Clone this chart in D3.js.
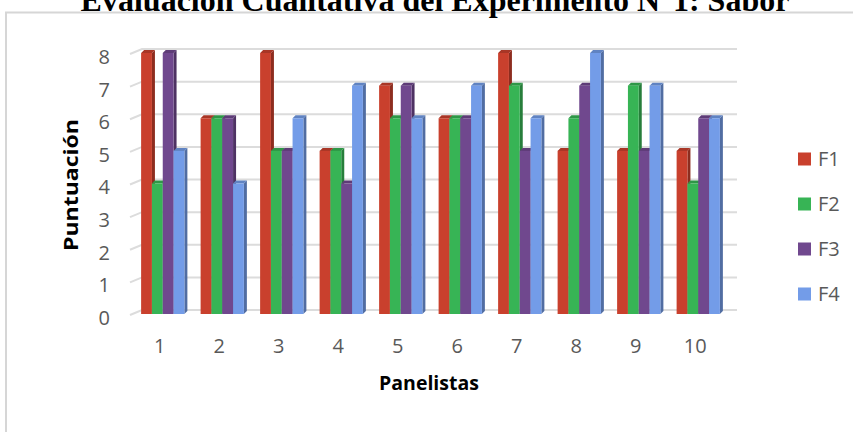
<!DOCTYPE html>
<html>
<head>
<meta charset="utf-8">
<script src="https://cdn.jsdelivr.net/npm/d3@7"></script>
<style>
  html, body { margin: 0; padding: 0; background: #fff; }
  svg { display: block; }
</style>
</head>
<body>
<svg id="chart" width="853" height="432"></svg>
<script>
// Panel scores per panelist for the four formulations
const panelistas = ["1", "2", "3", "4", "5", "6", "7", "8", "9", "10"];
const seriesNames = ["F1", "F2", "F3", "F4"];
const F1 = [8, 6, 8, 5, 7, 6, 8, 5, 5, 5];
const F2 = [4, 6, 5, 5, 6, 6, 7, 6, 7, 4];
const F3 = [8, 6, 5, 4, 7, 6, 5, 7, 5, 6];
const F4 = [5, 4, 6, 7, 6, 7, 6, 8, 7, 6];
const yTicks = [0, 1, 2, 3, 4, 5, 6, 7, 8];
const seriesColors = ["#c9402d", "#37b455", "#70488e", "#739ce8"];

const titleText = "Evaluación Cualitativa del Experimento N°1: Sabor";
const xTitle = "Panelistas";
const yTitle = "Puntuación";

const values = [F1, F2, F3, F4];

const svg = d3.select("#chart");
const uiFont = "'Open Sans', 'Noto Sans', sans-serif";

// chart frame
svg.append("rect")
  .attr("x", 6).attr("y", 12.5)
  .attr("width", 870).attr("height", 440)
  .attr("fill", "#fff")
  .attr("stroke", "#d6d6d6").attr("stroke-width", 2);

// title (sits partly above the frame)
svg.append("text")
  .attr("x", 435).attr("y", 11)
  .attr("text-anchor", "middle")
  .attr("font-family", "'Liberation Serif', 'Times New Roman', serif")
  .attr("font-weight", "bold")
  .attr("font-size", 32)
  .attr("fill", "#000")
  .text(titleText);

// scales
const x = d3.scaleBand().domain(panelistas).range([133, 728]).paddingInner(0).paddingOuter(0);
const inner = d3.scaleBand().domain(seriesNames).range([0, x.bandwidth()]).paddingOuter(0.75).paddingInner(0);
const y = d3.scaleLinear().domain([0, 8]).range([314, 53]);

const depth = 3;           // bar side/top depth
const wallDx = 10;         // back wall offset for gridlines

// gridlines on the back wall with floor diagonal at the left
const grid = svg.append("g");
yTicks.forEach(t => {
  const yb = y(t) - 4;
  grid.append("path")
    .attr("d", `M130,${yb + 5} L${130 + wallDx + 2},${yb} L737,${yb}`)
    .attr("fill", "none")
    .attr("stroke", "#dcdcdc")
    .attr("stroke-width", 2);
});

// y axis labels
const yAxis = d3.axisLeft(y).tickValues(yTicks).tickSize(0).tickPadding(0);
const gy = svg.append("g").attr("transform", "translate(110,4)").call(yAxis);
gy.select(".domain").remove();
gy.selectAll("text")
  .attr("font-family", uiFont).attr("font-size", 20)
  .attr("fill", "#595959");

// x axis labels
const xAxis = d3.axisBottom(x).tickSize(0).tickPadding(0);
const gx = svg.append("g").attr("transform", "translate(-3,339)").call(xAxis);
gx.select(".domain").remove();
gx.selectAll("text")
  .attr("font-family", uiFont).attr("font-size", 20)
  .attr("fill", "#595959");

// 3D bars
function shade(c, k) { return d3.color(c).darker(k).formatHex(); }
const bars = svg.append("g");
panelistas.forEach((p, i) => {
  const g = bars.append("g");
  seriesNames.forEach((s, j) => {
    const v = values[j][i];
    const x0 = x(p) + inner(s);
    const w = inner.bandwidth();
    const yt = y(v), yb = y(0);
    const col = seriesColors[j];
    // side face
    g.append("path")
      .attr("d", `M${x0 + w},${yt} L${x0 + w + depth},${yt - depth} L${x0 + w + depth},${yb - depth} L${x0 + w},${yb} Z`)
      .attr("fill", shade(col, 1.0));
    // top face
    g.append("path")
      .attr("d", `M${x0},${yt} L${x0 + depth},${yt - depth} L${x0 + w + depth},${yt - depth} L${x0 + w},${yt} Z`)
      .attr("fill", shade(col, 0.5));
    // front face
    g.append("rect")
      .attr("x", x0).attr("y", yt)
      .attr("width", w).attr("height", yb - yt)
      .attr("fill", col);
  });
});

// axis titles
svg.append("text")
  .attr("x", 429).attr("y", 390)
  .attr("text-anchor", "middle")
  .attr("font-family", uiFont).attr("font-weight", "bold")
  .attr("font-size", 19.5).attr("fill", "#000")
  .text(xTitle);

svg.append("text")
  .attr("transform", "translate(78,185) rotate(-90)")
  .attr("text-anchor", "middle")
  .attr("font-family", uiFont).attr("font-weight", "bold")
  .attr("font-size", 20).attr("fill", "#000")
  .attr("textLength", 132).attr("lengthAdjust", "spacingAndGlyphs")
  .text(yTitle);

// legend
const legendY = [159, 204, 249, 294];
const legend = svg.append("g");
seriesNames.forEach((s, j) => {
  legend.append("rect")
    .attr("x", 798).attr("y", legendY[j] - 6.5)
    .attr("width", 13).attr("height", 13)
    .attr("fill", seriesColors[j]);
  legend.append("text")
    .attr("x", 818).attr("y", legendY[j])
    .attr("dy", "0.35em")
    .attr("font-family", uiFont).attr("font-size", 20)
    .attr("fill", "#595959")
    .text(s);
});
</script>
</body>
</html>
